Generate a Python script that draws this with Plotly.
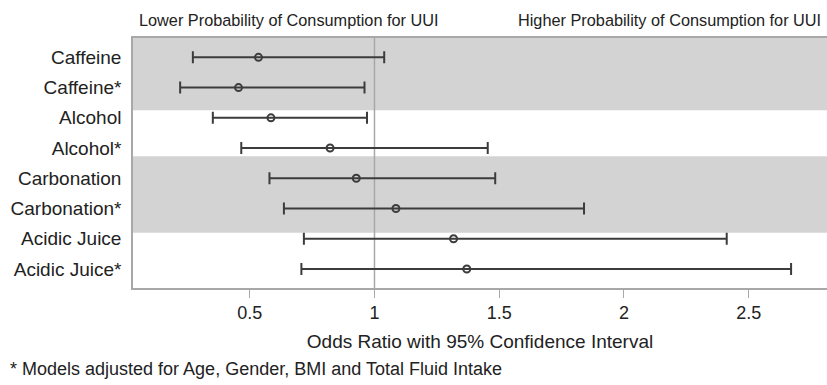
import plotly.graph_objects as go

labels = ["Caffeine", "Caffeine*", "Alcohol", "Alcohol*", "Carbonation",
          "Carbonation*", "Acidic Juice", "Acidic Juice*"]
odds_ratio = [0.535, 0.455, 0.585, 0.822, 0.927, 1.086, 1.317, 1.370]
ci_low = [0.272, 0.221, 0.352, 0.466, 0.579, 0.637, 0.717, 0.707]
ci_high = [1.039, 0.960, 0.970, 1.454, 1.484, 1.840, 2.412, 2.670]
x_ticks = [0.5, 1, 1.5, 2, 2.5]
x_tick_text = ["0.5", "1", "1.5", "2", "2.5"]

rows = list(range(len(labels)))
err_plus = [h - p for h, p in zip(ci_high, odds_ratio)]
err_minus = [p - l for p, l in zip(odds_ratio, ci_low)]

DARK = "#3c3c3c"
GRAY_LINE = "#a8a8a8"
BAND = "#d3d3d3"
FONT = "Liberation Sans, Arial, sans-serif"
TXT = "#222222"

fig = go.Figure()
fig.add_trace(go.Scatter(
    x=odds_ratio, y=rows, mode="markers",
    marker=dict(symbol="circle-open", size=7, color=DARK, line=dict(width=2, color=DARK)),
    error_x=dict(type="data", symmetric=False, array=err_plus, arrayminus=err_minus,
                 color=DARK, thickness=2, width=6),
    showlegend=False, hoverinfo="x+y",
))

# shaded bands
fig.add_shape(type="rect", xref="paper", yref="y", x0=0, x1=1, y0=-0.64, y1=1.75,
              fillcolor=BAND, line=dict(width=0), layer="below")
fig.add_shape(type="rect", xref="paper", yref="y", x0=0, x1=1, y0=3.27, y1=5.80,
              fillcolor=BAND, line=dict(width=0), layer="below")
# reference line at OR = 1
fig.add_shape(type="line", xref="x", yref="paper", x0=1, x1=1, y0=0, y1=1,
              line=dict(color=GRAY_LINE, width=1.5), layer="below")

fig.update_layout(
    width=827, height=385,
    margin=dict(l=133, r=0, t=38, b=97),
    plot_bgcolor="white", paper_bgcolor="white",
    font=dict(family=FONT, color=TXT),
    xaxis=dict(
        range=[0.032, 2.814], tickvals=x_ticks, ticktext=x_tick_text,
        ticks="outside", ticklen=8, tickcolor=GRAY_LINE, tickwidth=1,
        showgrid=False, zeroline=False,
        showline=True, linecolor=GRAY_LINE, linewidth=1.5, mirror=True,
        tickfont=dict(size=18, family=FONT, color=TXT),
        title=dict(text="Odds Ratio with 95% Confidence Interval",
                   font=dict(size=19, family=FONT, color=TXT), standoff=12),
    ),
    yaxis=dict(
        range=[7.63, -0.64], tickvals=rows, ticktext=labels,
        ticks="", showgrid=False, zeroline=False,
        showline=True, linecolor=GRAY_LINE, linewidth=1.5,
        tickfont=dict(size=19, family=FONT, color=TXT),
        ticklabelstandoff=6,
    ),
    annotations=[
        dict(text="Lower Probability of Consumption for UUI", xref="paper", yref="paper",
             x=0.006, y=1.072, xanchor="left", yanchor="middle", showarrow=False,
             font=dict(size=16.3, family=FONT, color=TXT)),
        dict(text="Higher Probability of Consumption for UUI", xref="paper", yref="paper",
             x=0.994, y=1.072, xanchor="right", yanchor="middle", showarrow=False,
             font=dict(size=16.3, family=FONT, color=TXT)),
        dict(text="* Models adjusted for Age, Gender, BMI and Total Fluid Intake",
             xref="paper", yref="paper", x=-0.18, y=-0.324, xanchor="left", yanchor="middle",
             showarrow=False, font=dict(size=18, family=FONT, color=TXT)),
    ],
)

fig.write_html("out.html", config={"displayModeBar": False},
               post_script="document.body.style.margin='0';")
